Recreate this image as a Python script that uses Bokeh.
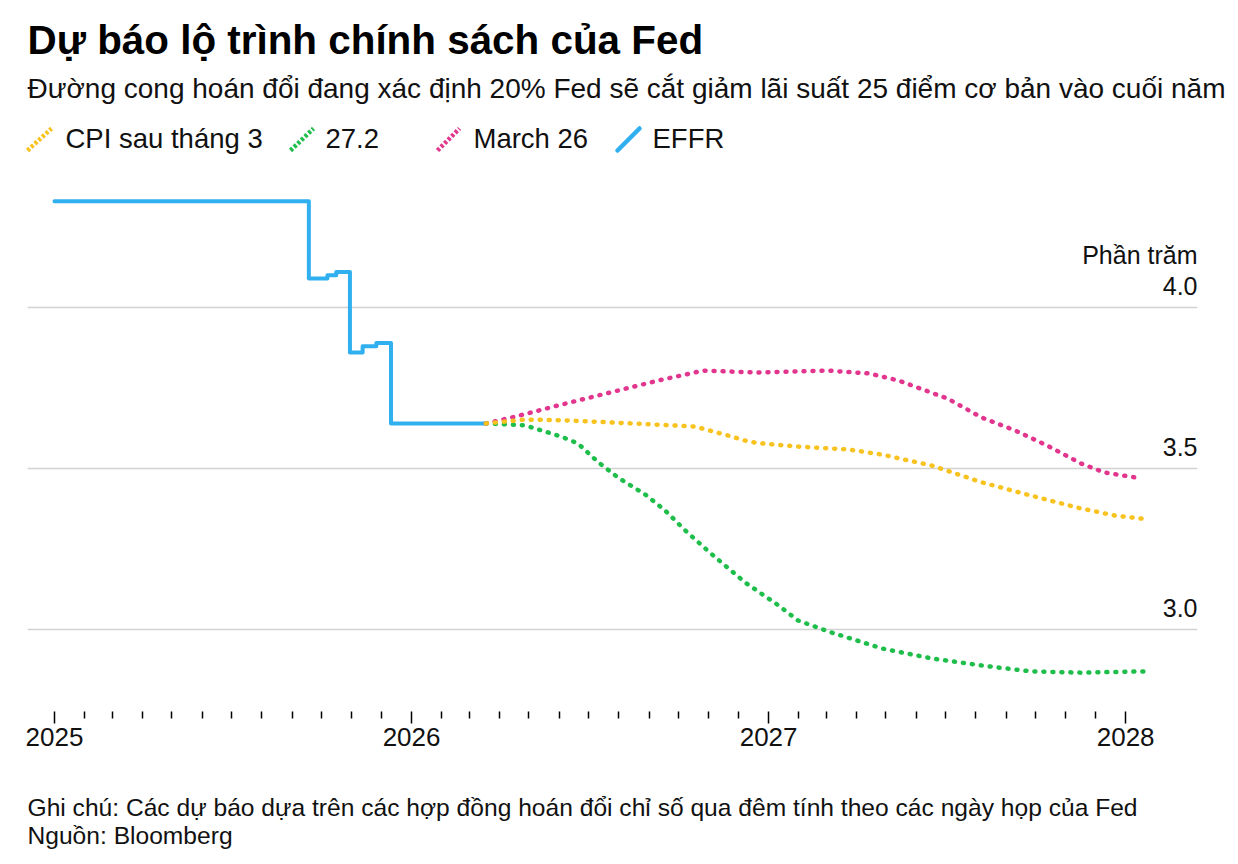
import pandas as pd
from bokeh.plotting import figure
from bokeh.models import Range1d, FixedTicker, DatetimeTickFormatter, Grid
from bokeh.layouts import column
from bokeh.embed import file_html
from bokeh.resources import INLINE
from bokeh.core.properties import value

# ---------------- texts ----------------
title = "Dự báo lộ trình chính sách của Fed"
subtitle = "Đường cong hoán đổi đang xác định 20% Fed sẽ cắt giảm lãi suất 25 điểm cơ bản vào cuối năm"
note = "Ghi chú: Các dự báo dựa trên các hợp đồng hoán đổi chỉ số qua đêm tính theo các ngày họp của Fed"
source = "Nguồn: Bloomberg"
series_names = ["CPI sau tháng 3", "27.2", "March 26", "EFFR"]
unit_label = "Phần trăm"

# ---------------- data ----------------
effr_dates = ["2025-01-01", "2025-09-18", "2025-10-07", "2025-10-16", "2025-10-30",
              "2025-11-12", "2025-11-26", "2025-12-11", "2026-03-18"]
effr_values = [4.33, 4.09, 4.10, 4.11, 3.86, 3.88, 3.89, 3.64, 3.64]

cpi_dates = ["2026-03-18", "2026-04-27", "2026-06-03", "2026-07-24", "2026-09-10",
             "2026-10-18", "2026-11-21", "2026-12-11", "2026-12-24", "2027-01-31",
             "2027-03-24", "2027-04-27", "2027-06-17", "2027-08-07", "2027-09-26",
             "2027-11-16", "2027-12-21", "2028-01-24"]
cpi_values = [3.640, 3.652, 3.650, 3.643, 3.636, 3.630, 3.602, 3.584, 3.578, 3.568,
              3.559, 3.543, 3.509, 3.457, 3.416, 3.376, 3.354, 3.342]

feb27_dates = ["2026-03-18", "2026-04-27", "2026-06-03", "2026-06-20", "2026-07-11",
               "2026-07-31", "2026-08-28", "2026-09-17", "2026-10-08", "2026-11-03",
               "2026-12-08", "2027-01-11", "2027-01-31", "2027-03-06", "2027-04-27",
               "2027-06-17", "2027-08-07", "2027-09-26", "2027-11-16", "2028-01-21"]
feb27_values = [3.640, 3.634, 3.599, 3.578, 3.519, 3.472, 3.419, 3.370, 3.307, 3.236,
                3.146, 3.075, 3.028, 2.991, 2.941, 2.910, 2.888, 2.870, 2.866, 2.870]

mar26_dates = ["2026-03-18", "2026-04-17", "2026-05-31", "2026-07-31", "2026-09-10",
               "2026-10-26", "2026-12-21", "2027-03-03", "2027-04-14", "2027-05-14",
               "2027-07-03", "2027-08-07", "2027-09-10", "2027-10-13", "2027-11-16",
               "2027-12-10", "2028-01-17"]
mar26_values = [3.640, 3.661, 3.696, 3.742, 3.773, 3.804, 3.798, 3.804, 3.795, 3.773,
                3.717, 3.658, 3.618, 3.571, 3.516, 3.488, 3.469]

year_ticks = ["2025-01-01", "2026-01-01", "2027-01-01", "2028-01-01"]
y_ticks = [3.0, 3.5, 4.0]
y_tick_labels = ["3.0", "3.5", "4.0"]

# ---------------- styles ----------------
FONT = "Liberation Sans"
C_CPI = "#F8C21F"
C_FEB = "#1FBE4B"
C_MAR = "#E2358D"
C_EFFR = "#30B0EF"
TXT = "#111111"
W = 1230
W_HEAD = 1238


def ms(d):
    return pd.Timestamp(d).value // 10**6


def ms_list(ds):
    return [ms(d) for d in ds]


DAY = 86400000.0
px_per_day = 357.3 / 365.25
x_start = ms("2025-01-01") - 27.0 / px_per_day * DAY
x_end = ms("2025-01-01") + 1143.0 / px_per_day * DAY


def page_fig(top, h, w):
    f = figure(width=w, height=h, x_range=Range1d(0, w), y_range=Range1d(top + h, top),
               output_backend="svg", toolbar_location=None,
               x_axis_location=None, y_axis_location=None, min_border=0,
               outline_line_color=None, background_fill_color="white",
               border_fill_color="white", frame_align=False)
    f.grid.visible = False
    return f


# ---------------- header ----------------
head = page_fig(0, 178, W_HEAD)
head.text(x=[27], y=[39], text=[title], text_font=value(FONT), text_font_size="40.4px",
          text_font_style="bold", text_baseline="alphabetic", text_color="#000000")
head.text(x=[27], y=[88], text=[subtitle], text_font=value(FONT), text_font_size="28px",
          text_baseline="alphabetic", text_color=TXT)

key_x0 = [27, 290, 437, 617]
key_x1 = [51, 313, 459, 639]
key_colors = [C_CPI, C_FEB, C_MAR, C_EFFR]
for i in range(4):
    if i < 3:
        head.line(x=[key_x0[i], key_x1[i]], y=[150, 128], line_color=key_colors[i],
                  line_width=4.5, line_dash="3 2", line_cap="butt")
    else:
        head.line(x=[key_x0[i], key_x1[i]], y=[150, 128], line_color=key_colors[i],
                  line_width=4.5, line_cap="round")
head.text(x=[65, 325, 473, 652], y=[138] * 4, text=series_names, text_font=value(FONT),
          text_font_size="27.5px", text_baseline="alphabetic", text_color=TXT)

# ---------------- main chart ----------------
p = figure(width=W, height=602, x_range=Range1d(x_start, x_end),
           y_range=Range1d(2.7453, 4.4006), x_axis_type="datetime",
           y_axis_location=None, output_backend="svg", toolbar_location=None,
           min_border_left=27, min_border_right=33, min_border_top=0, min_border_bottom=69,
           outline_line_color=None, background_fill_color="white", border_fill_color="white",
           frame_align=False)
p.grid.visible = False
p.add_layout(Grid(dimension=1, ticker=FixedTicker(ticks=y_ticks),
                  grid_line_color="#d2d2d2", grid_line_width=1.6))

months = pd.date_range("2025-01-01", "2028-01-01", freq="MS")
minor = [ms(m) for m in months if m.month != 1]
p.xaxis.ticker = FixedTicker(ticks=ms_list(year_ticks), minor_ticks=minor)
p.xaxis.formatter = DatetimeTickFormatter(years="%Y", months="%Y", days="%Y",
                                          hours="%Y", hourmin="%Y")
p.xaxis.axis_line_color = None
p.xaxis.major_tick_line_color = "#000000"
p.xaxis.major_tick_line_width = 1.5
p.xaxis.major_tick_in = 0
p.xaxis.major_tick_out = 12
p.xaxis.minor_tick_line_color = "#000000"
p.xaxis.minor_tick_line_width = 1.5
p.xaxis.minor_tick_in = 0
p.xaxis.minor_tick_out = 7
p.xaxis.major_label_text_font = FONT
p.xaxis.major_label_text_font_size = "26px"
p.xaxis.major_label_text_color = TXT
p.xaxis.major_label_standoff = 4

p.step(x=ms_list(effr_dates), y=effr_values, mode="after", line_color=C_EFFR,
       line_width=4, line_join="round", line_cap="round")
p.line(x=ms_list(feb27_dates), y=feb27_values, line_color=C_FEB, line_width=4.5,
       line_dash="1 8", line_cap="round")
p.line(x=ms_list(mar26_dates), y=mar26_values, line_color=C_MAR, line_width=4.5,
       line_dash="1 8", line_cap="round")
p.line(x=ms_list(cpi_dates), y=cpi_values, line_color=C_CPI, line_width=4.5,
       line_dash="1 8", line_cap="round")

p.text(x=[x_end] * len(y_ticks), y=y_ticks, text=y_tick_labels, text_font=value(FONT),
       text_font_size="25px", text_align="right", text_baseline="alphabetic",
       y_offset=-21, text_color=TXT)
p.text(x=[x_end], y=[y_ticks[-1]], text=[unit_label], text_font=value(FONT),
       text_font_size="25px", text_align="right", text_baseline="alphabetic",
       y_offset=-52, text_color=TXT)

# ---------------- footer ----------------
foot = page_fig(780, 80, W)
foot.text(x=[27, 27], y=[807, 835], text=[note, source], text_font=value(FONT),
          text_font_size="24.6px", text_baseline="alphabetic", text_color=TXT)

layout = column(head, p, foot, spacing=0)
open("out.html", "w").write(file_html(layout, INLINE))
